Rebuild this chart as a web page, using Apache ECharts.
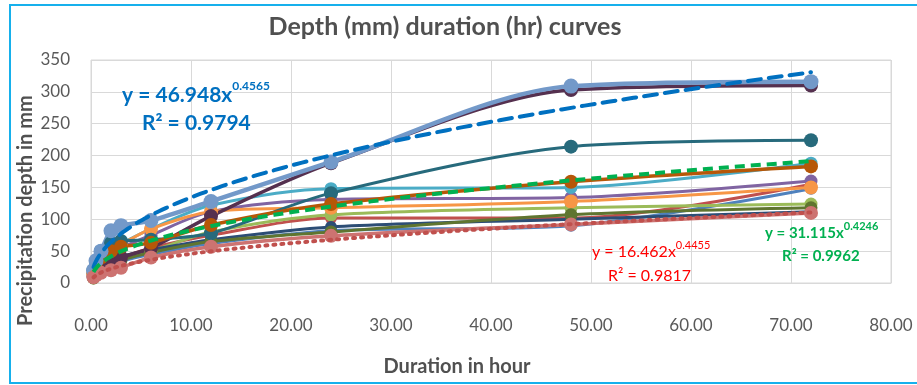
<!DOCTYPE html>
<html>
<head>
<meta charset="utf-8">
<script src="https://cdn.jsdelivr.net/npm/echarts/dist/echarts.min.js"></script>
<style>
  html, body { margin: 0; padding: 0; background: #ffffff; }
  #chart { width: 917px; height: 385px; }
</style>
</head>
<body>
<div id="chart"></div>
<script>
// Storm durations (hours) shared by every station record
const durations = [0.25, 0.5, 1, 2, 3, 6, 12, 24, 48, 72];

// Precipitation depth (mm) per record, one value per duration
const depthBlue       = [8, 13, 20, 28, 34, 45, 62, 82, 90, 148];
const depthRed        = [10, 16, 25, 35, 40, 55, 75, 102, 102, 155];
const depthGreen      = [8, 14, 22, 32, 38, 50, 80, 107, 118, 124];
const depthPurple     = [12, 20, 32, 45, 55, 75, 112, 131, 134, 160];
const depthAqua       = [15, 25, 38, 55, 62, 85, 122, 148, 150, 188];
const depthOrange     = [14, 22, 35, 50, 60, 85, 112, 118, 128, 150];
const depthDarkBlue   = [9, 15, 24, 35, 42, 52, 68, 88, 100, 112];
const depthDarkGreen  = [8, 13, 20, 30, 36, 48, 65, 80, 107, 118];
const depthPlum       = [10, 15, 25, 32, 40, 55, 105, 188, 303, 310];
const depthDarkTeal   = [20, 32, 50, 63, 66, 68, 78, 141, 214, 224];
const depthRust       = [15, 25, 40, 50, 57, 63, 91, 124, 159, 183];
const depthLightBlue  = [20, 35, 50, 82, 90, 98, 128, 190, 309, 316];
const depthLightRed   = [9, 12, 16, 20, 24, 40, 57, 74, 92, 110];

// Power-law trendlines y = a * x^b as stated on the chart
const trendUpper = { a: 46.948, b: 0.4565, r2: '0.9794' };
const trendMid   = { a: 31.115, b: 0.4246, r2: '0.9962' };
const trendLower = { a: 16.462, b: 0.4455, r2: '0.9817' };

// Axis ticks
const xTicks = [0, 10, 20, 30, 40, 50, 60, 70, 80];
const yTicks = [0, 50, 100, 150, 200, 250, 300, 350];

const FONT = 'Lato, "Open Sans", sans-serif';
const GREY = '#595959';

function pairs(values) {
  return durations.map((d, i) => [d, values[i]]);
}

function trendPoints(t) {
  const pts = [];
  const lo = Math.log(durations[0]);
  const hi = Math.log(durations[durations.length - 1]);
  const n = 120;
  for (let i = 0; i <= n; i++) {
    const x = Math.exp(lo + (hi - lo) * i / n);
    pts.push([x, t.a * Math.pow(x, t.b)]);
  }
  return pts;
}

function record(name, values, color, width, size) {
  return {
    name: name,
    type: 'line',
    data: pairs(values),
    smooth: 0.3,
    symbol: 'circle',
    symbolSize: size,
    lineStyle: { color: color, width: width },
    itemStyle: { color: color },
    z: 2
  };
}

function trend(name, t, color, width, dash, cap) {
  return {
    name: name,
    type: 'line',
    data: trendPoints(t),
    showSymbol: false,
    symbol: 'none',
    smooth: false,
    lineStyle: { color: color, width: width, type: dash, cap: cap },
    z: 5
  };
}

const chart = echarts.init(document.getElementById('chart'), null, { renderer: 'canvas' });

chart.setOption({
  animation: false,
  backgroundColor: '#ffffff',
  grid: { left: 91, right: 26, top: 60, bottom: 102, show: true, borderColor: '#d9d9d9', borderWidth: 1 },
  xAxis: {
    type: 'value',
    min: xTicks[0],
    max: xTicks[xTicks.length - 1],
    interval: 10,
    axisLine: { show: true, lineStyle: { color: '#d9d9d9', width: 1 } },
    axisTick: { show: false },
    splitLine: { show: true, lineStyle: { color: '#d9d9d9', width: 1 } },
    axisLabel: { color: GREY, fontFamily: FONT, fontSize: 17, margin: 34, formatter: v => v.toFixed(2) }
  },
  yAxis: {
    type: 'value',
    min: yTicks[0],
    max: yTicks[yTicks.length - 1],
    interval: 50,
    axisLine: { show: false },
    axisTick: { show: false },
    splitLine: { show: true, lineStyle: { color: '#d9d9d9', width: 1 } },
    axisLabel: { color: GREY, fontFamily: FONT, fontSize: 17, margin: 21 }
  },
  series: [
    record('Blue', depthBlue, '#4f81bd', 3, 12),
    record('Red', depthRed, '#c0504d', 3, 12),
    record('Green', depthGreen, '#9bbb59', 3, 13),
    record('Purple', depthPurple, '#8064a2', 3, 13),
    record('Aqua', depthAqua, '#4bacc6', 3, 13),
    record('Orange', depthOrange, '#f79646', 3, 14),
    record('Dark blue', depthDarkBlue, '#2c4d75', 3, 12),
    record('Dark green', depthDarkGreen, '#5f7530', 3, 13),
    record('Plum', depthPlum, '#55304f', 3.5, 14),
    record('Dark teal', depthDarkTeal, '#276a7c', 3, 14),
    record('Rust', depthRust, '#b65708', 3.5, 14),
    record('Light blue', depthLightBlue, '#7399c9', 4.5, 15),
    record('Light red', depthLightRed, '#cd7371', 3.5, 14),
    trend('Power (upper)', trendUpper, '#0070c0', 4, [13, 8], 'round'),
    trend('Power (middle)', trendMid, '#00b050', 4, [10, 6], 'butt'),
    trend('Power (lower)', trendLower, '#c0504d', 4, [2, 6], 'round')
  ],
  graphic: [
    {
      type: 'rect', silent: true, z: 100,
      shape: { x: 10, y: 5, width: 920, height: 378 },
      style: { fill: 'none', stroke: '#16b0ec', lineWidth: 2 }
    },
    {
      type: 'text', z: 100, x: 445, y: 27,
      style: { text: 'Depth (mm) duration (hr) curves', fill: '#505050', font: 'bold 25px ' + FONT, align: 'center', verticalAlign: 'middle' }
    },
    {
      type: 'text', z: 100, rotation: Math.PI / 2,
      x: 16, y: 326,
      style: { text: 'Precipitation depth in mm', fill: '#505050', font: 'bold 20px ' + FONT, align: 'left', verticalAlign: 'top' }
    },
    {
      type: 'text', z: 100, x: 457, y: 367,
      style: { text: 'Duration in hour', fill: '#505050', font: 'bold 20px ' + FONT, align: 'center', verticalAlign: 'middle' }
    },
    {
      type: 'text', z: 100, x: 122, y: 80,
      style: {
        text: '{m|y = ' + trendUpper.a.toFixed(3) + 'x}{s|' + trendUpper.b + '}',
        rich: {
          m: { fill: '#0070c0', fontFamily: FONT, fontWeight: 'bold', fontSize: 21, lineHeight: 26, verticalAlign: 'bottom' },
          s: { fill: '#0070c0', fontFamily: FONT, fontWeight: 'bold', fontSize: 12, lineHeight: 26, verticalAlign: 'top' }
        }
      }
    },
    {
      type: 'text', z: 100, x: 142, y: 113,
      style: { text: 'R² = ' + trendUpper.r2, fill: '#0070c0', font: 'bold 21px ' + FONT }
    },
    {
      type: 'text', z: 100, x: 592, y: 240,
      style: {
        text: '{m|y = ' + trendLower.a.toFixed(3) + 'x}{s|' + trendLower.b + '}',
        rich: {
          m: { fill: '#ff0000', fontFamily: FONT, fontSize: 16, lineHeight: 20, verticalAlign: 'bottom' },
          s: { fill: '#ff0000', fontFamily: FONT, fontSize: 11, lineHeight: 20, verticalAlign: 'top' }
        }
      }
    },
    {
      type: 'text', z: 100, x: 608, y: 268,
      style: { text: 'R² = ' + trendLower.r2, fill: '#ff0000', font: '16px ' + FONT }
    },
    {
      type: 'text', z: 100, x: 765, y: 221,
      style: {
        text: '{m|y = ' + trendMid.a.toFixed(3) + 'x}{s|' + trendMid.b + '}',
        rich: {
          m: { fill: '#00b050', fontFamily: FONT, fontWeight: 'bold', fontSize: 15, lineHeight: 20, verticalAlign: 'bottom' },
          s: { fill: '#00b050', fontFamily: FONT, fontWeight: 'bold', fontSize: 11, lineHeight: 20, verticalAlign: 'top' }
        }
      }
    },
    {
      type: 'text', z: 100, x: 782, y: 249,
      style: { text: 'R² = ' + trendMid.r2, fill: '#00b050', font: 'bold 15px ' + FONT }
    }
  ]
});
</script>
</body>
</html>
